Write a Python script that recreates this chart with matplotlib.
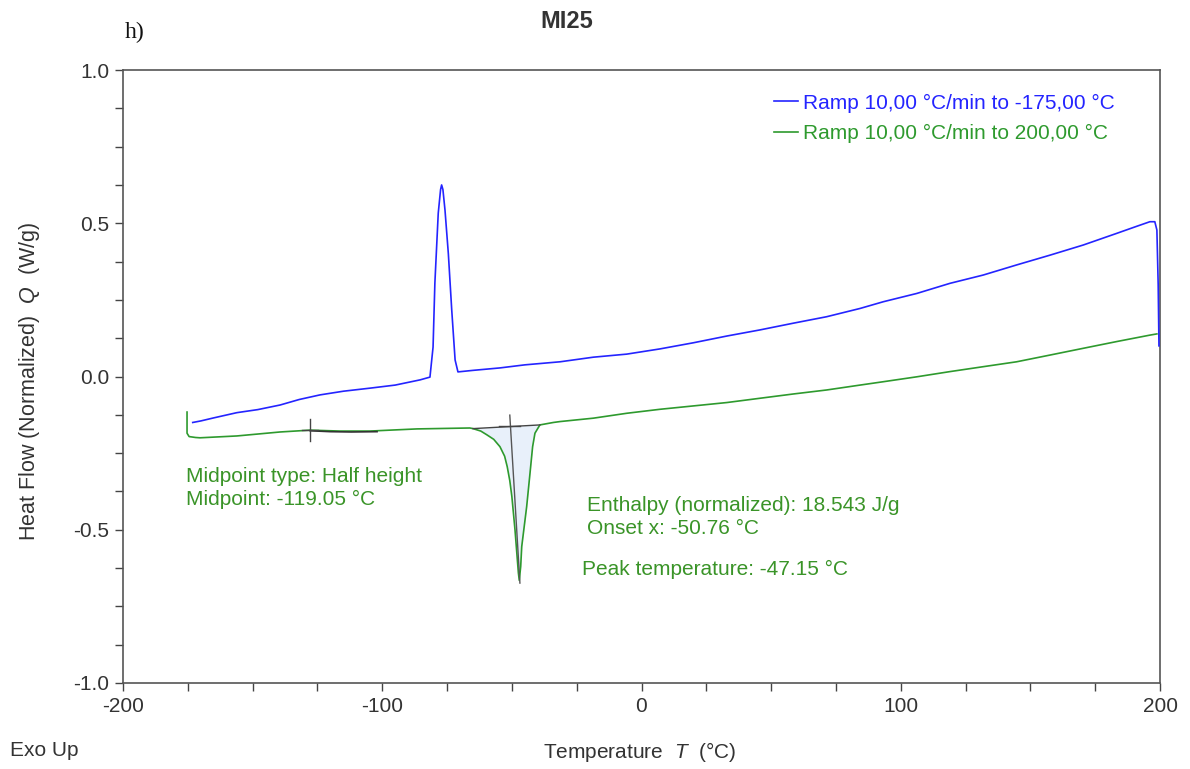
import numpy as np
import matplotlib
matplotlib.use("Agg")
import matplotlib.pyplot as plt
from matplotlib.ticker import MultipleLocator, FuncFormatter

plt.rcParams['font.family'] = ['Liberation Sans', 'DejaVu Sans']
plt.rcParams['mathtext.fontset'] = 'custom'
plt.rcParams['mathtext.it'] = 'Liberation Sans:italic'
plt.rcParams['mathtext.rm'] = 'Liberation Sans'

# ---------------- data ----------------
# Cooling ramp (blue), temperature in °C and normalized heat flow in W/g
cool_T = [-173.1, -170.0, -165.0, -156.1, -148.0, -139.4, -132.0, -124.0, -115.0, -104.7,
          -95.0, -85.4, -81.6, -80.4, -79.7, -78.4, -77.5, -77.1, -76.6, -75.8,
          -74.5, -73.2, -71.9, -70.8, -65.0, -54.6, -45.0, -31.4, -18.6, -5.7,
          7.1, 20.0, 32.9, 45.7, 58.6, 71.4, 84.3, 93.3, 106.2, 119.0,
          131.8, 144.7, 157.6, 170.4, 183.3, 191.0, 196.1, 198.0, 198.8, 199.3, 199.6]
cool_Q = [-0.150, -0.145, -0.135, -0.118, -0.108, -0.093, -0.075, -0.060, -0.048, -0.038,
          -0.028, -0.011, -0.002, 0.096, 0.305, 0.533, 0.610, 0.625, 0.610, 0.543,
          0.400, 0.217, 0.054, 0.015, 0.020, 0.028, 0.038, 0.048, 0.063, 0.073,
          0.090, 0.110, 0.132, 0.152, 0.174, 0.195, 0.222, 0.244, 0.271, 0.304,
          0.331, 0.364, 0.396, 0.429, 0.467, 0.490, 0.505, 0.505, 0.478, 0.300, 0.100]

# Heating ramp (green)
heat_T = [-175.3, -175.3, -174.5, -172.0, -170.3, -156.1, -139.4, -127.8, -116.3, -104.7,
          -86.6, -66.2, -65.0, -62.0, -59.7, -57.0, -54.6, -52.8, -51.8, -50.8,
          -50.0, -48.8, -47.5, -47.15, -46.6, -46.2, -44.3, -43.0, -42.0, -41.1,
          -39.2, -34.0, -31.4, -18.6, -5.7, 7.1, 20.0, 32.9, 45.7, 58.6,
          71.4, 84.3, 93.3, 106.2, 119.0, 131.8, 144.7, 157.6, 170.4, 183.3,
          196.1, 198.8]
heat_Q = [-0.116, -0.185, -0.196, -0.199, -0.200, -0.194, -0.181, -0.175, -0.178, -0.178,
          -0.171, -0.168, -0.170, -0.178, -0.190, -0.205, -0.229, -0.260, -0.294, -0.340,
          -0.392, -0.500, -0.640, -0.665, -0.620, -0.555, -0.425, -0.315, -0.229, -0.185,
          -0.158, -0.150, -0.147, -0.136, -0.120, -0.107, -0.096, -0.085, -0.071, -0.057,
          -0.044, -0.028, -0.017, -0.001, 0.016, 0.032, 0.048, 0.070, 0.092, 0.114,
          0.135, 0.139]

# Glass-transition evaluation (black overlay on green curve)
tg_T = [-127.8, -120.0, -112.0, -102.0]
tg_Q = [-0.177, -0.180, -0.181, -0.180]
midpoint_T = -127.8
midpoint_Q = -0.175

# Melting peak integration baseline
peak_base_T = [-65.0, -39.2]
peak_base_Q = [-0.170, -0.158]
onset_T = -50.8
onset_Q = -0.163
tangent_T = [-50.8, -46.9]
tangent_Q = [-0.126, -0.674]

x_ticks = [-200, -100, 0, 100, 200]
y_ticks = [-1.0, -0.5, 0.0, 0.5, 1.0]

legend_labels = ["Ramp 10,00 °C/min to -175,00 °C", "Ramp 10,00 °C/min to 200,00 °C"]
ann_glass = ["Midpoint type: Half height", "Midpoint: -119.05 °C"]
ann_melt = ["Enthalpy (normalized): 18.543 J/g", "Onset x: -50.76 °C"]
ann_peak = "Peak temperature: -47.15 °C"

BLUE = '#2424ff'
GREEN = '#2e9a2e'
TXT_GREEN = '#3a9428'
DARK = '#333333'
FS = 15

# ---------------- figure ----------------
fig = plt.figure(figsize=(11.9, 7.69), dpi=100)
ax = fig.add_axes([123 / 1190, 1 - 683 / 769, (1160 - 123) / 1190, (683 - 70) / 769])

# fill of the peak area
ft = np.array([t for t in heat_T if peak_base_T[0] <= t <= peak_base_T[1]])
fq = np.array([q for t, q in zip(heat_T, heat_Q) if peak_base_T[0] <= t <= peak_base_T[1]])
fb = np.interp(ft, peak_base_T, peak_base_Q)
ax.fill_between(ft, fq, fb, color='#e8f0fa', lw=0, zorder=1)

ax.plot(cool_T, cool_Q, color=BLUE, lw=1.2, label=legend_labels[0], zorder=3)
ax.plot(heat_T, heat_Q, color=GREEN, lw=1.2, label=legend_labels[1], zorder=3)

# evaluation overlays
ax.plot(tg_T, tg_Q, color='#333333', lw=1.2, zorder=4)
ax.plot([midpoint_T, midpoint_T], [midpoint_Q - 0.036, midpoint_Q + 0.036], color='#444444', lw=1.0, zorder=4)
ax.plot([midpoint_T - 3, midpoint_T + 3], [midpoint_Q, midpoint_Q], color='#444444', lw=1.0, zorder=4)
ax.plot(peak_base_T, peak_base_Q, color='#444444', lw=1.0, zorder=4)
ax.plot(tangent_T, tangent_Q, color='#555555', lw=1.0, zorder=4)
ax.plot([onset_T - 4, onset_T + 4], [onset_Q, onset_Q], color='#444444', lw=1.0, zorder=4)

ax.set_xlim(-200, 200)
ax.set_ylim(-1.0, 1.0)
ax.set_xticks(x_ticks)
ax.set_yticks(y_ticks)
ax.xaxis.set_minor_locator(MultipleLocator(25))
ax.yaxis.set_minor_locator(MultipleLocator(0.125))
ax.xaxis.set_major_formatter(FuncFormatter(lambda v, p: f"{v:.0f}".replace('\u2212', '-')))
ax.yaxis.set_major_formatter(FuncFormatter(lambda v, p: f"{v:.1f}".replace('\u2212', '-')))
ax.tick_params(which='both', direction='out', length=6, width=1.0, color='#444444',
               labelsize=FS, labelcolor=DARK, pad=4)
for s in ax.spines.values():
    s.set_color('#555555')
    s.set_linewidth(1.2)

leg = ax.legend(loc='upper right', bbox_to_anchor=(0.964, 0.975), frameon=False,
                fontsize=FS, handlelength=1.15, handletextpad=0.2, labelspacing=0.55,
                borderaxespad=0)
for txt, c in zip(leg.get_texts(), [BLUE, GREEN]):
    txt.set_color(c)

ax.text(-175.7, -0.325, ann_glass[0], color=TXT_GREEN, fontsize=FS, va='center', ha='left')
ax.text(-175.7, -0.400, ann_glass[1], color=TXT_GREEN, fontsize=FS, va='center', ha='left')
ax.text(-21.0, -0.4225, ann_melt[0], color=TXT_GREEN, fontsize=FS, va='center', ha='left')
ax.text(-21.0, -0.4975, ann_melt[1], color=TXT_GREEN, fontsize=FS, va='center', ha='left')
ax.text(-23.0, -0.628, ann_peak, color=TXT_GREEN, fontsize=FS, va='center', ha='left')

fig.text(567 / 1190, 1 - 22 / 769, "MI25", fontsize=17, fontweight='bold', color='#333333',
         ha='center', va='center')
fig.text(125 / 1190, 1 - 32 / 769, "h)", fontsize=17, family='Liberation Serif',
         color='#111111', ha='left', va='center')
fig.text(30 / 1190, 1 - 381 / 769, "Heat Flow (Normalized)  $Q$  (W/g)", rotation=90,
         fontsize=15.5, color=DARK, ha='center', va='center')
fig.text(640 / 1190, 1 - 752 / 769, "Temperature  $T$  (°C)", fontsize=FS, color=DARK,
         ha='center', va='center')
fig.text(10 / 1190, 1 - 750 / 769, "Exo Up", fontsize=FS, color=DARK, ha='left', va='center')

fig.savefig("out.png", dpi=100)
